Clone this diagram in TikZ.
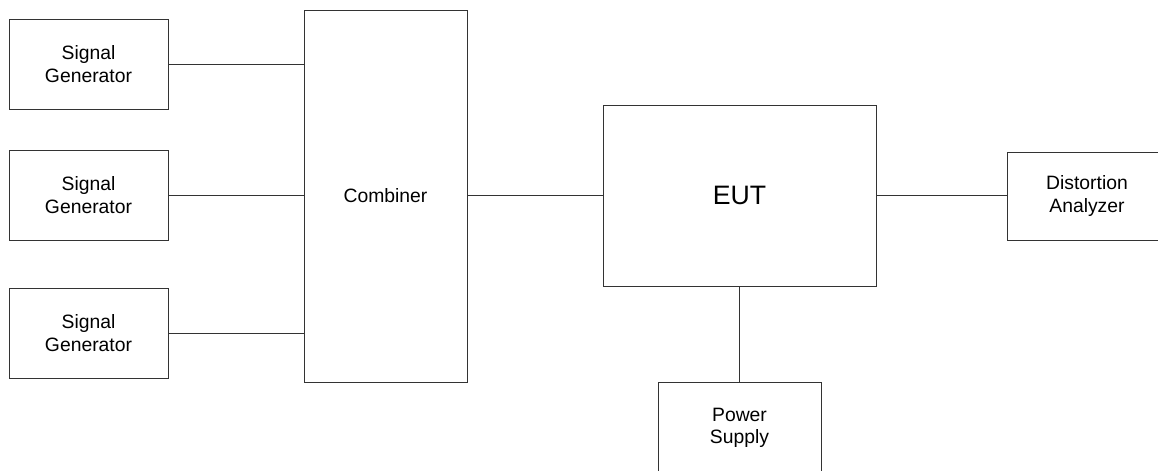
\documentclass[tikz,border=0pt]{standalone}
\usepackage{fontspec}
\setmainfont{Liberation Sans}
\begin{document}
\begin{tikzpicture}[x=0.75pt,y=-0.75pt,
  box/.style 2 args={draw=black!80, line width=0.75pt, rectangle, inner sep=0pt,
    minimum width=#1*0.75pt, minimum height=#2*0.75pt, align=center,
    font=\fontsize{14.5pt}{16.8pt}\selectfont},
  wire/.style={draw=black!80, line width=0.75pt}]
\useasboundingbox (0,0) rectangle (1158,471);
\clip (0,0) rectangle (1158,471);
\node[box={159}{90}] (sg1) at (88.5,64) {Signal\\Generator};
\node[box={159}{90}] (sg2) at (88.5,195) {Signal\\Generator};
\node[box={159}{90}] (sg3) at (88.5,333) {Signal\\Generator};
\node[box={163}{372}] (comb) at (385.5,196) {Combiner};
\node[box={273}{181}, font=\fontsize{20pt}{24pt}\selectfont] (eut) at (739.5,195.5) {EUT};
\node[box={160}{88}] (da) at (1087,196) {Distortion\\Analyzer};
\node[box={163}{92}] (ps) at (739.5,428) {Power\\Supply};
\draw[wire] (sg1.east) -- (sg1.east -| comb.west);
\draw[wire] (sg2.east) -- (sg2.east -| comb.west);
\draw[wire] (sg3.east) -- (sg3.east -| comb.west);
\draw[wire] (comb.east |- eut.west) -- (eut.west);
\draw[wire] (eut.east) -- (eut.east -| da.west);
\draw[wire] (eut.south) -- (ps.north);
\end{tikzpicture}
\end{document}
